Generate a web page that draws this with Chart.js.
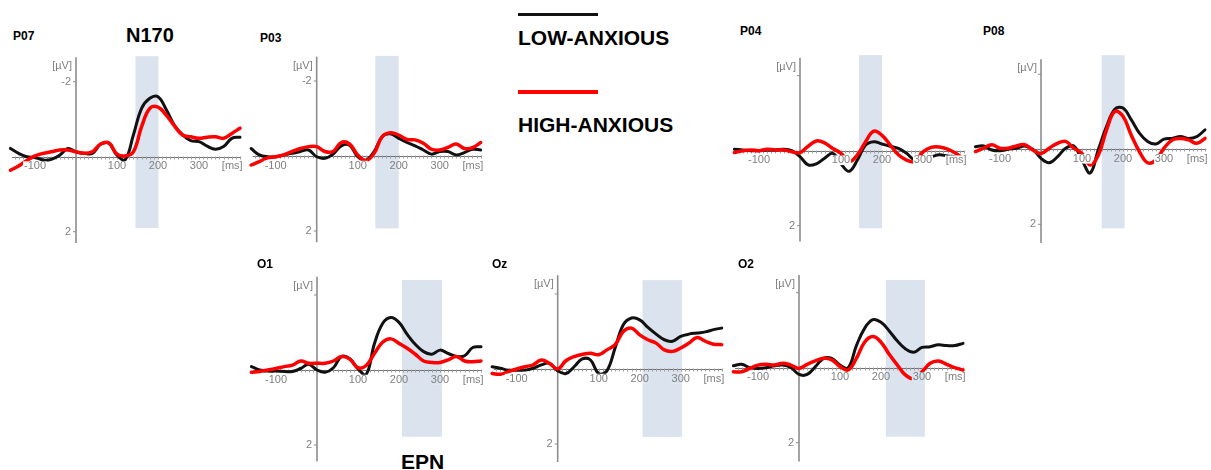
<!DOCTYPE html>
<html>
<head>
<meta charset="utf-8">
<script src="https://cdn.jsdelivr.net/npm/chart.js@4.4.0/dist/chart.umd.min.js"></script>
<style>
  body { margin: 0; background: #fff; }
  #fig { position: relative; width: 1211px; height: 470px; overflow: hidden; font-family: "Liberation Sans", Arial, sans-serif; }
  #fig canvas { position: absolute; }
  .lbl { position: absolute; font-weight: bold; color: #000; white-space: nowrap; line-height: 1; }
  .key { position: absolute; left: 518px; width: 80px; }
</style>
</head>
<body>
<div id="fig">
  <div class="key" style="top:12.5px;height:3px;background:#111"></div>
  <div class="lbl" style="left:518px;top:27px;font-size:21px">LOW-ANXIOUS</div>
  <div class="key" style="top:90px;height:4px;background:#f00"></div>
  <div class="lbl" style="left:518px;top:114px;font-size:21px">HIGH-ANXIOUS</div>
  <div class="lbl" style="left:126px;top:24.5px;font-size:20px">N170</div>
  <div class="lbl" style="left:401px;top:450.5px;font-size:21px">EPN</div>
</div>
<script>
// time points (ms)
const times = [-160, -140, -120, -100, -80, -60, -40, -20, 0, 20, 40, 60, 80, 100, 120,
               140, 160, 180, 200, 220, 240, 260, 280, 300, 320, 340, 360, 380, 400];

// amplitudes in µV (negative plotted up)
const p07Low  = [-0.22, -0.09, 0, 0.02, 0.09, 0.07, -0.04, -0.22, -0.13, -0.09, -0.09, -0.33, -0.36, -0.04, 0.08,
                 -0.58, -1.29, -1.56, -1.6, -1.26, -0.84, -0.58, -0.43, -0.4, -0.28, -0.2, -0.27, -0.49, -0.52];
const p07High = [0.36, 0.25, 0.1, -0.02, -0.09, -0.13, -0.18, -0.18, -0.13, -0.09, -0.13, -0.34, -0.37, -0.07, -0.02,
                 -0.13, -0.8, -1.29, -1.32, -1.11, -0.82, -0.58, -0.53, -0.49, -0.52, -0.53, -0.49, -0.62, -0.76];
const p03Low  = [-0.2, -0.03, 0.02, 0.02, -0.03, -0.07, -0.12, -0.16, 0.02, 0.06, -0.05, -0.27, -0.29, 0.02, 0.11,
                 -0.12, -0.52, -0.59, -0.47, -0.36, -0.27, -0.16, -0.05, -0.12, -0.12, -0.03, -0.09, -0.18, -0.16];
const p03High = [0.24, 0.15, 0.05, 0.02, -0.03, -0.12, -0.2, -0.25, -0.25, -0.12, -0.12, -0.36, -0.32, -0.03, 0.12,
                 -0.07, -0.52, -0.62, -0.56, -0.44, -0.43, -0.34, -0.18, -0.16, -0.23, -0.32, -0.2, -0.22, -0.36];
const p04Low  = [-0.04, -0.02, 0, 0, -0.02, -0.02, -0.04, 0, 0.16, 0.38, 0.35, 0.2, 0.07, 0.35, 0.55,
                 0.25, -0.15, -0.24, -0.18, -0.12, -0.06, 0.07, 0.25, 0.2, 0.16, 0.11, 0.14, 0.16, 0.23];
const p04High = [0.05, 0, -0.02, 0, -0.04, -0.02, -0.02, 0.03, 0.05, -0.12, -0.26, -0.21, -0.06, 0.07, 0.29,
                 0.11, -0.24, -0.52, -0.41, -0.15, 0.11, 0.25, 0.29, 0.03, -0.09, -0.1, -0.04, 0.07, 0.23];
const p08Low  = [-0.07, -0.09, 0.02, 0.04, 0, -0.03, -0.09, 0, 0.24, 0.36, 0.2, -0.03, -0.09, 0.29, 0.63,
                 0.0, -0.61, -1.07, -1.1, -0.79, -0.43, -0.21, -0.14, -0.27, -0.29, -0.34, -0.29, -0.34, -0.52];
const p08High = [0.06, -0.03, -0.12, -0.03, -0.03, -0.09, -0.12, 0.02, 0.11, -0.03, -0.16, -0.21, -0.03, 0.11, 0.42,
                 0.15, -0.52, -1.01, -0.88, -0.38, 0.06, 0.36, 0.29, -0.03, -0.25, -0.29, -0.25, -0.16, -0.29];
const o1Low   = [-0.09, 0, 0.03, 0.03, 0.04, 0.04, -0.04, -0.15, 0, 0.06, -0.06, -0.36, -0.3, -0.03, 0.12,
                 -0.7, -1.24, -1.4, -1.27, -0.95, -0.68, -0.49, -0.42, -0.53, -0.44, -0.36, -0.38, -0.6, -0.62];
const o1High  = [0.06, 0.04, 0, -0.04, -0.09, -0.13, -0.24, -0.18, -0.18, -0.18, -0.24, -0.36, -0.29, -0.06, -0.12,
                 -0.44, -0.74, -0.83, -0.71, -0.58, -0.42, -0.24, -0.2, -0.2, -0.27, -0.36, -0.24, -0.22, -0.24];
const ozLow   = [-0.06, -0.02, 0.03, 0.03, 0.03, -0.02, -0.11, -0.15, 0.05, 0.12, -0.06, -0.27, -0.24, 0.12, 0.05,
                 -0.56, -1.18, -1.36, -1.31, -1.11, -0.93, -0.78, -0.74, -0.87, -0.93, -0.96, -0.99, -1.05, -1.09];
const ozHigh  = [0.12, 0.14, 0.07, 0, -0.06, -0.11, -0.24, -0.15, 0, -0.22, -0.33, -0.39, -0.42, -0.38, -0.51,
                 -0.65, -1.0, -1.09, -0.91, -0.78, -0.69, -0.51, -0.47, -0.56, -0.69, -0.84, -0.74, -0.66, -0.65];
const o2Low   = [-0.05, -0.09, 0, 0.02, 0, -0.05, -0.07, -0.01, 0.18, 0.18, -0.03, -0.25, -0.25, -0.07, 0,
                 -0.59, -1.05, -1.28, -1.21, -0.98, -0.71, -0.5, -0.41, -0.54, -0.56, -0.61, -0.59, -0.59, -0.65];
const o2High  = [0.11, 0.11, 0.02, -0.07, -0.09, -0.07, -0.12, -0.07, 0.02, -0.09, -0.18, -0.25, -0.21, -0.03, 0.06,
                 -0.25, -0.68, -0.83, -0.68, -0.36, -0.07, 0.2, 0.29, 0.11, -0.12, -0.18, -0.09, 0, 0.06];

const xTicks = [-100, 100, 200, 300];
const yTicks = [-2, 2];

// panel layout: origin (t=0, 0 µV) in page px, analysis window, axis extent
const panels = [
  { name: 'P07', low: p07Low, high: p07High, ox: 76,    oy: 156.7, band: [145, 201], bandY: [-2.68, 1.9],  axisY: [-2.65, 2.3],  topLabel: true,  nx: 13,  ny: 30 },
  { name: 'P03', low: p03Low, high: p03High, ox: 316.7, oy: 156,   band: [143, 200], bandY: [-2.67, 1.93], axisY: [-2.65, 2.3],  topLabel: true,  nx: 260, ny: 31.7 },
  { name: 'P04', low: p04Low, high: p04High, ox: 800,   oy: 150.7, band: [144, 200], bandY: [-2.55, 2.07], axisY: [-2.48, 2.42], topLabel: false, nx: 740, ny: 25 },
  { name: 'P08', low: p08Low, high: p08High, ox: 1041,  oy: 149.3, band: [148, 204], bandY: [-2.51, 2.11], axisY: [-2.4, 2.5],   topLabel: false, nx: 983, ny: 25 },
  { name: 'O1',  low: o1Low,  high: o1High,  ox: 317,   oy: 370,   band: [207, 305], bandY: [-2.4, 1.78],  axisY: [-2.49, 2.44], topLabel: false, nx: 257, ny: 258.4 },
  { name: 'Oz',  low: ozLow,  high: ozHigh,  ox: 557.7, oy: 369,   band: [207, 303], bandY: [-2.37, 1.81], axisY: [-2.5, 2.48],  topLabel: false, nx: 492, ny: 258.4 },
  { name: 'O2',  low: o2Low,  high: o2High,  ox: 799,   oy: 367.7, band: [212, 307], bandY: [-2.34, 1.84], axisY: [-2.47, 2.5],  topLabel: false, nx: 738, ny: 258.4 }
];

const PX_MS = 0.41;   // px per ms
const PX_UV = 37.5;   // px per µV
const BAND = '#dbe3ef';
const GREY = '#808080';

function makeAxes(p) {
  return {
    id: 'erpAxes',
    beforeDatasetsDraw(chart) {
      const ctx = chart.ctx;
      const X = v => chart.scales.x.getPixelForValue(v);
      const Y = v => chart.scales.y.getPixelForValue(v);
      ctx.save();
      ctx.fillStyle = BAND;
      ctx.fillRect(X(p.band[0]), Y(p.bandY[0]), X(p.band[1]) - X(p.band[0]), Y(p.bandY[1]) - Y(p.bandY[0]));

      const y0 = Math.round(Y(0)) + 0.5;
      ctx.strokeStyle = '#707070';
      ctx.lineWidth = 1;
      ctx.beginPath();
      ctx.moveTo(X(-156), y0);
      ctx.lineTo(X(403), y0);
      ctx.stroke();
      ctx.strokeStyle = '#a0a0a0';
      ctx.beginPath();
      for (let t = -150; t <= 400; t += 10) {
        const xx = Math.round(X(t)) + 0.5;
        ctx.moveTo(xx, y0 - 1);
        ctx.lineTo(xx, y0 + 2);
      }
      ctx.stroke();

      const x0 = X(0);
      ctx.strokeStyle = '#8c8c8c';
      ctx.lineWidth = 1.6;
      ctx.beginPath();
      ctx.moveTo(x0, Y(p.axisY[0]));
      ctx.lineTo(x0, Y(p.axisY[1]));
      ctx.stroke();
      ctx.lineWidth = 1;
      yTicks.forEach(v => {
        ctx.beginPath();
        ctx.moveTo(x0 - 3, Y(v));
        ctx.lineTo(x0, Y(v));
        ctx.stroke();
      });
      ctx.restore();
    },
    afterDatasetsDraw(chart) {
      const ctx = chart.ctx;
      const X = v => chart.scales.x.getPixelForValue(v);
      const Y = v => chart.scales.y.getPixelForValue(v);
      const bx0 = X(p.band[0]), by0 = Y(p.bandY[0]);
      const bw = X(p.band[1]) - bx0, bh = Y(p.bandY[1]) - by0;
      ctx.save();
      ctx.font = '11px "Liberation Sans", Arial, sans-serif';
      ctx.textBaseline = 'middle';

      // labels knock the curves out behind them, the band stays
      const label = (txt, cx, cy, align) => {
        const w = ctx.measureText(txt).width;
        const left = align === 'right' ? cx - w : cx - w / 2;
        ctx.save();
        ctx.beginPath();
        ctx.rect(left - 1, cy - 5, w + 2, 10);
        ctx.clip();
        ctx.fillStyle = '#fff';
        ctx.fillRect(left - 1, cy - 5, w + 2, 10);
        ctx.fillStyle = BAND;
        ctx.fillRect(bx0, by0, bw, bh);
        ctx.restore();
        ctx.fillStyle = GREY;
        ctx.textAlign = align;
        ctx.fillText(txt, cx, cy);
      };

      const yl = Y(0) + 9.5;
      xTicks.forEach(t => label(String(t), X(t), yl, 'center'));
      label('[ms]', X(381), yl, 'center');

      const x0 = X(0);
      ctx.fillStyle = GREY;
      ctx.textAlign = 'right';
      ctx.fillText('[µV]', x0 - 4, Y(p.axisY[0]) + 9);
      yTicks.forEach(v => {
        if (v < 0 && !p.topLabel) return;
        ctx.fillText(String(v), x0 - 5, Y(v));
      });
      ctx.restore();
    }
  };
}

const fig = document.getElementById('fig');

panels.forEach(p => {
  const left = Math.round(p.ox - 168 * PX_MS);
  const top = Math.round(p.oy - 2.8 * PX_UV);
  const W = Math.round(578 * PX_MS);
  const H = Math.round(5.45 * PX_UV);
  const xmin = -(p.ox - left) / PX_MS;
  const ymin = -(p.oy - top) / PX_UV;

  const cv = document.createElement('canvas');
  cv.width = W;
  cv.height = H;
  cv.style.left = left + 'px';
  cv.style.top = top + 'px';
  fig.appendChild(cv);

  const name = document.createElement('div');
  name.className = 'lbl';
  name.style.left = p.nx + 'px';
  name.style.top = p.ny + 'px';
  name.style.fontSize = '12px';
  name.textContent = p.name;
  fig.appendChild(name);

  new Chart(cv, {
    type: 'line',
    data: {
      datasets: [
        {
          label: 'LOW-ANXIOUS',
          data: times.map((t, i) => ({ x: t, y: p.low[i] })),
          borderColor: '#111',
          borderWidth: 3,
          order: 1
        },
        {
          label: 'HIGH-ANXIOUS',
          data: times.map((t, i) => ({ x: t, y: p.high[i] })),
          borderColor: '#ff0000',
          borderWidth: 3.5,
          order: 0
        }
      ]
    },
    options: {
      responsive: false,
      animation: false,
      events: [],
      layout: { padding: 0 },
      elements: {
        point: { radius: 0 },
        line: { tension: 0.4, borderCapStyle: 'round', borderJoinStyle: 'round' }
      },
      plugins: {
        legend: { display: false },
        tooltip: { enabled: false }
      },
      scales: {
        x: { type: 'linear', display: false, min: xmin, max: xmin + W / PX_MS },
        y: { type: 'linear', display: false, reverse: true, min: ymin, max: ymin + H / PX_UV }
      }
    },
    plugins: [makeAxes(p)]
  });
});
</script>
</body>
</html>
